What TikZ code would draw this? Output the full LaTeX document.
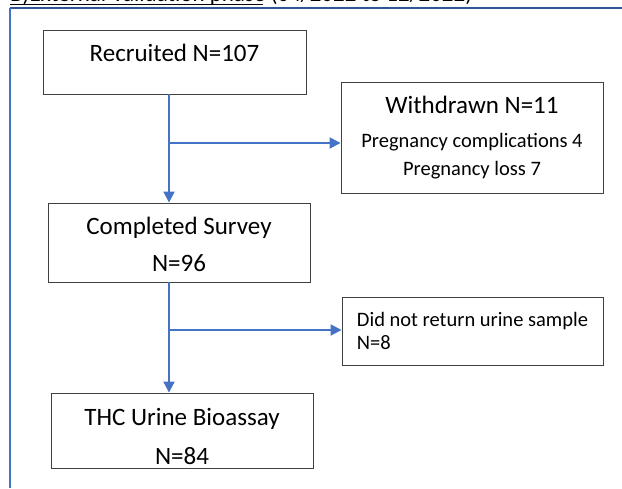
\documentclass[tikz,border=0pt]{standalone}
\usepackage{fontspec}
\setmainfont{Carlito}
\usetikzlibrary{arrows.meta}
\definecolor{conn}{HTML}{4472C4}
\definecolor{frametop}{HTML}{2F5597}
\definecolor{boxline}{HTML}{404040}
\newcommand{\bigtxt}{\fontsize{25}{30}\selectfont}
\newcommand{\smalltxt}{\fontsize{20.5}{23}\selectfont}
\tikzset{
  flowbox/.style={draw=boxline, line width=0.9pt, rectangle, inner sep=0pt, align=center},
  connline/.style={draw=conn, line width=2pt},
  arr/.style={connline, -{Triangle[length=11pt,width=11pt]}},
}
\begin{document}
\begin{tikzpicture}[x=1pt,y=-1pt]
\useasboundingbox (0,0) rectangle (622,488);
\clip (0,0) rectangle (622,488);
% frame
\coordinate (ftl) at (10,8);
\coordinate (ftr) at (622,8);
\coordinate (fbl) at (10,488);
\draw[frametop, line width=2pt] (ftl) -- (ftr);
\draw[conn, line width=2pt] (ftl) -- (fbl);
% title (cut off at the top)
\node[anchor=base west, inner sep=0pt, font=\fontsize{23}{28}\selectfont] (title) at (10,1.2) {B)External Validation phase (04/2022 to 12/2022)};
\coordinate (ul1) at (10,4.5);
\coordinate (ul2) at (263,4.5);
\draw[black, line width=1.2pt] (ul1) -- (ul2);
% boxes
\node[flowbox, minimum width=263, minimum height=64, font=\bigtxt] (r) at (174.5,62) {\raisebox{19pt}{Recruited N=107}};
\node[flowbox, minimum width=262, minimum height=111, font=\bigtxt] (w) at (472,137.5)
  {Withdrawn N=11\\[3.5pt]{\smalltxt Pregnancy complications 4}\\[-2pt]{\smalltxt Pregnancy loss 7}};
\node[flowbox, minimum width=262, minimum height=79, font=\bigtxt] (c) at (179,242.5)
  {\rule{0pt}{21pt}Completed Survey\\[7pt]N=96};
\node[flowbox, minimum width=261, minimum height=68, align=left, font=\smalltxt] (d) at (472.5,331)
  {Did not return urine sample\\N=8};
\node[flowbox, minimum width=262, minimum height=75, font=\bigtxt] (t) at (182,430.5)
  {\rule{0pt}{29pt}THC Urine Bioassay\\[9pt]N=84};
% connectors
\coordinate (col) at (169,0);
\coordinate (j1) at (169,143);
\coordinate (j2) at (169,330);
\draw[arr] (r.south -| col) -- (c.north -| col);
\draw[arr] (j1) -- (j1 -| w.west);
\draw[arr] (c.south -| col) -- (t.north -| col);
\draw[arr] (j2) -- (j2 -| d.west);
\end{tikzpicture}
\end{document}
